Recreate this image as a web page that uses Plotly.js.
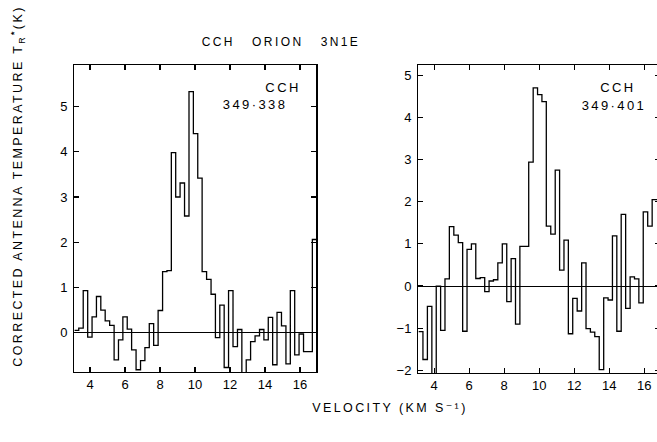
<!DOCTYPE html>
<html>
<head>
<meta charset="utf-8">
<script src="https://cdn.plot.ly/plotly-3.0.1.min.js"></script>
<style>
  html, body { margin: 0; padding: 0; background: #fff; width: 657px; height: 442px; overflow: hidden; }
  #chart { width: 670px; height: 442px; }
  #chart text.gtitle, #chart .textpoint text, #chart text.x3title, #chart text.y3title { letter-spacing: 2.4px; }
</style>
</head>
<body>
<div id="chart"></div>
<script>
// Channel centre velocities (km/s)
const velocity = [3.23, 3.48, 3.74, 3.99, 4.24, 4.49, 4.74, 4.99, 5.25, 5.50,
  5.75, 6.00, 6.25, 6.50, 6.76, 7.01, 7.26, 7.51, 7.76, 8.02,
  8.27, 8.52, 8.77, 9.02, 9.27, 9.53, 9.78, 10.03, 10.28, 10.53,
  10.79, 11.04, 11.29, 11.54, 11.79, 12.04, 12.30, 12.55, 12.80, 13.05,
  13.30, 13.56, 13.81, 14.06, 14.31, 14.56, 14.81, 15.07, 15.32, 15.57,
  15.82, 16.07, 16.33, 16.58, 16.83];

// CCH 349.338 spectrum (K)
const temp349338 = [0.05, 0.10, 0.93, -0.10, 0.35, 0.80, 0.50, 0.26, 0.16, -0.60,
  -0.16, 0.35, 0.08, -0.38, -0.82, -0.62, -0.33, 0.20, -0.28, 0.49,
  1.35, 1.37, 3.98, 3.00, 3.31, 2.58, 5.33, 4.40, 3.42, 1.35,
  1.18, 0.85, -0.11, 0.61, -0.77, 0.93, -0.31, 0.07, -0.90, -0.60,
  -0.20, -0.07, 0.07, -0.16, 0.34, -0.71, 0.45, 0.15, -0.69, 0.93,
  -0.49, -0.03, -0.42, -0.42, 2.06];

// CCH 349.401 spectrum (K)
const temp349401 = [-1.08, -1.74, -0.48, -2.20, 0.00, -1.05, 0.17, 1.41, 1.21, 1.03,
  -1.07, 0.87, 1.00, 0.18, 0.20, -0.13, 0.12, 0.15, 0.55, 1.00,
  -0.37, 0.65, -0.90, 0.94, 0.94, 2.94, 4.70, 4.54, 4.37, 1.42,
  1.23, 2.75, 0.38, 1.09, -1.13, -0.29, -0.59, 0.55, -1.01, -1.09,
  -1.20, -1.98, -0.28, -0.33, 1.19, -1.07, 1.70, -0.53, 0.22, 0.17,
  -0.40, 1.76, 1.42, 2.05, 2.05];

const xTickVals = [4, 6, 8, 10, 12, 14, 16];
const yTickValsLeft = [0, 1, 2, 3, 4, 5];
const yTickValsRight = [-2, -1, 0, 1, 2, 3, 4, 5];

// panel labels (molecule / line frequency in GHz)
const labelsLeft = ['CCH', '349·338'];
const labelsRight = ['CCH', '349·401'];

// build histogram-style step outline from channel centres
function steps(centres, vals) {
  const xs = [], ys = [];
  const n = centres.length;
  for (let i = 0; i < n; i++) {
    const left = i === 0 ? centres[0] - (centres[1] - centres[0]) / 2 : (centres[i - 1] + centres[i]) / 2;
    const right = i === n - 1 ? centres[n - 1] + (centres[n - 1] - centres[n - 2]) / 2 : (centres[i] + centres[i + 1]) / 2;
    xs.push(left, right);
    ys.push(vals[i], vals[i]);
  }
  return { xs, ys };
}

const sA = steps(velocity, temp349338);
const sB = steps(velocity, temp349401);

const W = 670, H = 442;
const px = v => v / W;
const py = v => 1 - v / H;
const FONT = 'Liberation Sans, DejaVu Sans, sans-serif';
const labelFont = { family: FONT, size: 13, color: '#000' };

const traces = [
  { x: sA.xs, y: sA.ys, xaxis: 'x', yaxis: 'y', mode: 'lines', line: { color: '#000', width: 1.3 }, hoverinfo: 'skip', showlegend: false },
  { x: sB.xs, y: sB.ys, xaxis: 'x2', yaxis: 'y2', mode: 'lines', line: { color: '#000', width: 1.3 }, hoverinfo: 'skip', showlegend: false },
  { x: [15.03, 13.43], y: [5.39, 5.01], text: labelsLeft, mode: 'text', textposition: 'middle center', textfont: labelFont,
    xaxis: 'x', yaxis: 'y', cliponaxis: false, hoverinfo: 'skip', showlegend: false },
  { x: [14.50, 14.27], y: [4.67, 4.24], text: labelsRight, mode: 'text', textposition: 'middle center', textfont: labelFont,
    xaxis: 'x2', yaxis: 'y2', cliponaxis: false, hoverinfo: 'skip', showlegend: false },
  // empty trace that only registers the helper axes carrying the shared titles
  { x: [], y: [], xaxis: 'x3', yaxis: 'y3', mode: 'markers', hoverinfo: 'skip', showlegend: false }
];

const axBase = {
  showline: true, linecolor: '#000', linewidth: 1.3, mirror: 'ticks',
  ticks: 'inside', ticklen: 5, tickwidth: 1.2, tickcolor: '#000',
  showgrid: false, zeroline: false, fixedrange: true,
  tickfont: { family: FONT, size: 13, color: '#000' }
};
const titleAx = {
  showline: false, showticklabels: false, ticks: '', showgrid: false, zeroline: false, fixedrange: true, anchor: 'free'
};

const layout = {
  width: W, height: H,
  margin: { l: 0, r: 0, t: 0, b: 0 },
  paper_bgcolor: '#fff', plot_bgcolor: 'rgba(0,0,0,0)',
  font: { family: FONT, color: '#000' },
  title: {
    text: 'CCH\u00a0\u00a0\u00a0ORION\u00a0\u00a0\u00a03N1E',
    font: { family: FONT, size: 12, color: '#000' },
    xref: 'container', yref: 'container', x: px(281), y: py(42), xanchor: 'center', yanchor: 'middle'
  },
  xaxis: Object.assign({}, axBase, { domain: [px(74.3), px(316.3)], range: [3.10, 16.93], tickvals: xTickVals, anchor: 'y' }),
  yaxis: Object.assign({}, axBase, { domain: [py(372), py(65)], range: [-0.87, 5.92], tickvals: yTickValsLeft, anchor: 'x',
    zeroline: true, zerolinecolor: '#000', zerolinewidth: 1, ticklabelstandoff: 3 }),
  xaxis2: Object.assign({}, axBase, { domain: [px(418.3), px(660.3)], range: [3.09, 16.92], tickvals: xTickVals, anchor: 'y2' }),
  yaxis2: Object.assign({}, axBase, { domain: [py(373), py(65)], range: [-2.06, 5.24], tickvals: yTickValsRight, anchor: 'x2',
    zeroline: true, zerolinecolor: '#000', zerolinewidth: 1, ticklabelstandoff: 3 }),
  xaxis3: Object.assign({}, titleAx, { domain: [px(300), px(480)], position: py(399), range: [0, 1],
    title: { text: 'VELOCITY (KM S\u207B\u00B9)', standoff: 4, font: { family: FONT, size: 12.5, color: '#000' } } }),
  yaxis3: Object.assign({}, titleAx, { domain: [py(367), py(5)], position: px(33), range: [0, 1],
    title: { text: 'CORRECTED ANTENNA TEMPERATURE T<sub>R</sub><sup><b>*</b></sup>(K)', standoff: 6, font: { family: FONT, size: 12.5, color: '#000' } } })
};

Plotly.newPlot('chart', traces, layout, { staticPlot: true, displayModeBar: false });
</script>
</body>
</html>
